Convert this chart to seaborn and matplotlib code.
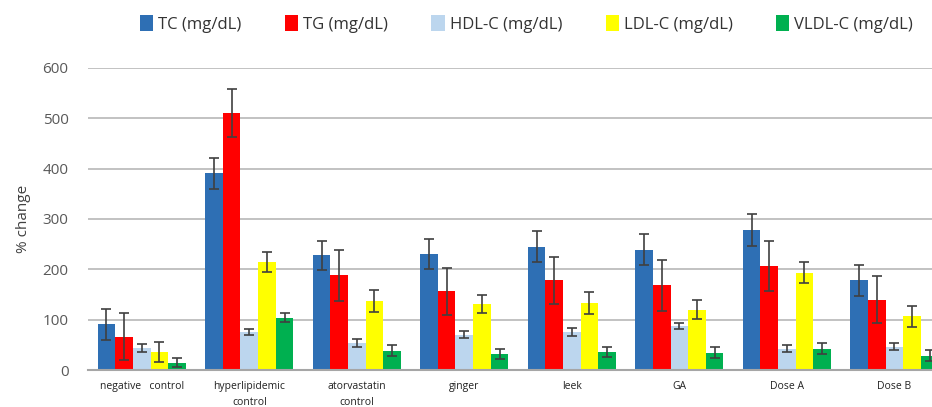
import numpy as np
import pandas as pd
import seaborn as sns
import matplotlib.pyplot as plt

groups = ["negative   control", "hyperlipidemic\ncontrol", "atorvastatin\ncontrol",
          "ginger", "leek", "GA", "Dose A", "Dose B"]
params = ["TC (mg/dL)", "TG (mg/dL)", "HDL-C (mg/dL)", "LDL-C (mg/dL)", "VLDL-C (mg/dL)"]

tc = [91, 391, 228, 231, 245, 239, 278, 178]
tg = [66, 510, 188, 156, 178, 168, 207, 140]
hdl = [43, 76, 54, 70, 76, 87, 42, 46]
ldl = [36, 215, 137, 131, 133, 120, 193, 107]
vldl = [14, 104, 38, 32, 36, 34, 42, 28]

tc_err = [31, 31, 29, 30, 31, 31, 31, 31]
tg_err = [47, 48, 50, 47, 47, 51, 50, 47]
hdl_err = [8, 6, 8, 7, 8, 6, 7, 7]
ldl_err = [20, 20, 21, 18, 21, 19, 21, 21]
vldl_err = [9, 9, 11, 10, 10, 11, 11, 11]

colors = ["#2e6fb4", "#ff0000", "#bcd6ee", "#ffff00", "#00b050"]

values = [tc, tg, hdl, ldl, vldl]
errors = [tc_err, tg_err, hdl_err, ldl_err, vldl_err]

rows = []
for p, vals in zip(params, values):
    for g, v in zip(groups, vals):
        rows.append({"group": g, "param": p, "value": v})
df = pd.DataFrame(rows)

sns.set_style("white")
plt.rcParams["font.family"] = ["Open Sans", "DejaVu Sans"]

fig = plt.figure(figsize=(9.32, 4.07), dpi=100)
ax = fig.add_axes([88 / 932, 37 / 407, 844 / 932, 302 / 407])

sns.barplot(data=df, x="group", y="value", hue="param", palette=colors,
            saturation=1, width=0.82, errorbar=None, ax=ax, legend=True,
            linewidth=0)

for cont, errs in zip(ax.containers, errors):
    xs = [b.get_x() + b.get_width() / 2 for b in cont]
    hs = [b.get_height() for b in cont]
    ax.errorbar(xs, hs, yerr=errs, fmt="none", ecolor="#404040",
                elinewidth=1.2, capsize=3.5, capthick=1.2, zorder=5)

ax.set_ylim(0, 600)
ax.set_xlim(-0.5, 7.35)
ax.set_yticks(range(0, 601, 100))
ax.yaxis.grid(True, color="#bdbdbd", linewidth=1.3)
ax.set_axisbelow(True)
for s in ["top", "right", "left"]:
    ax.spines[s].set_visible(False)
ax.spines["bottom"].set_color("#a6a6a6")
ax.spines["bottom"].set_linewidth(1.5)

ax.set_xlabel("")
ax.set_ylabel("% change", fontsize=11, color="#404040", labelpad=8)
ax.tick_params(axis="y", labelsize=11, labelcolor="#595959", length=0, pad=14)
ax.tick_params(axis="x", labelsize=7.5, labelcolor="#222222", length=0, pad=8)
for t in ax.get_xticklabels():
    t.set_linespacing(1.6)

handles, labels = ax.get_legend_handles_labels()
ax.get_legend().remove()
fig.legend(handles, labels, loc="upper center", bbox_to_anchor=(0.565, 1.0),
           ncol=5, frameon=False, fontsize=12, handlelength=0.8,
           handleheight=1.1, handletextpad=0.3, columnspacing=2.6,
           labelcolor="#333333")

fig.savefig("out.png", dpi=100)
